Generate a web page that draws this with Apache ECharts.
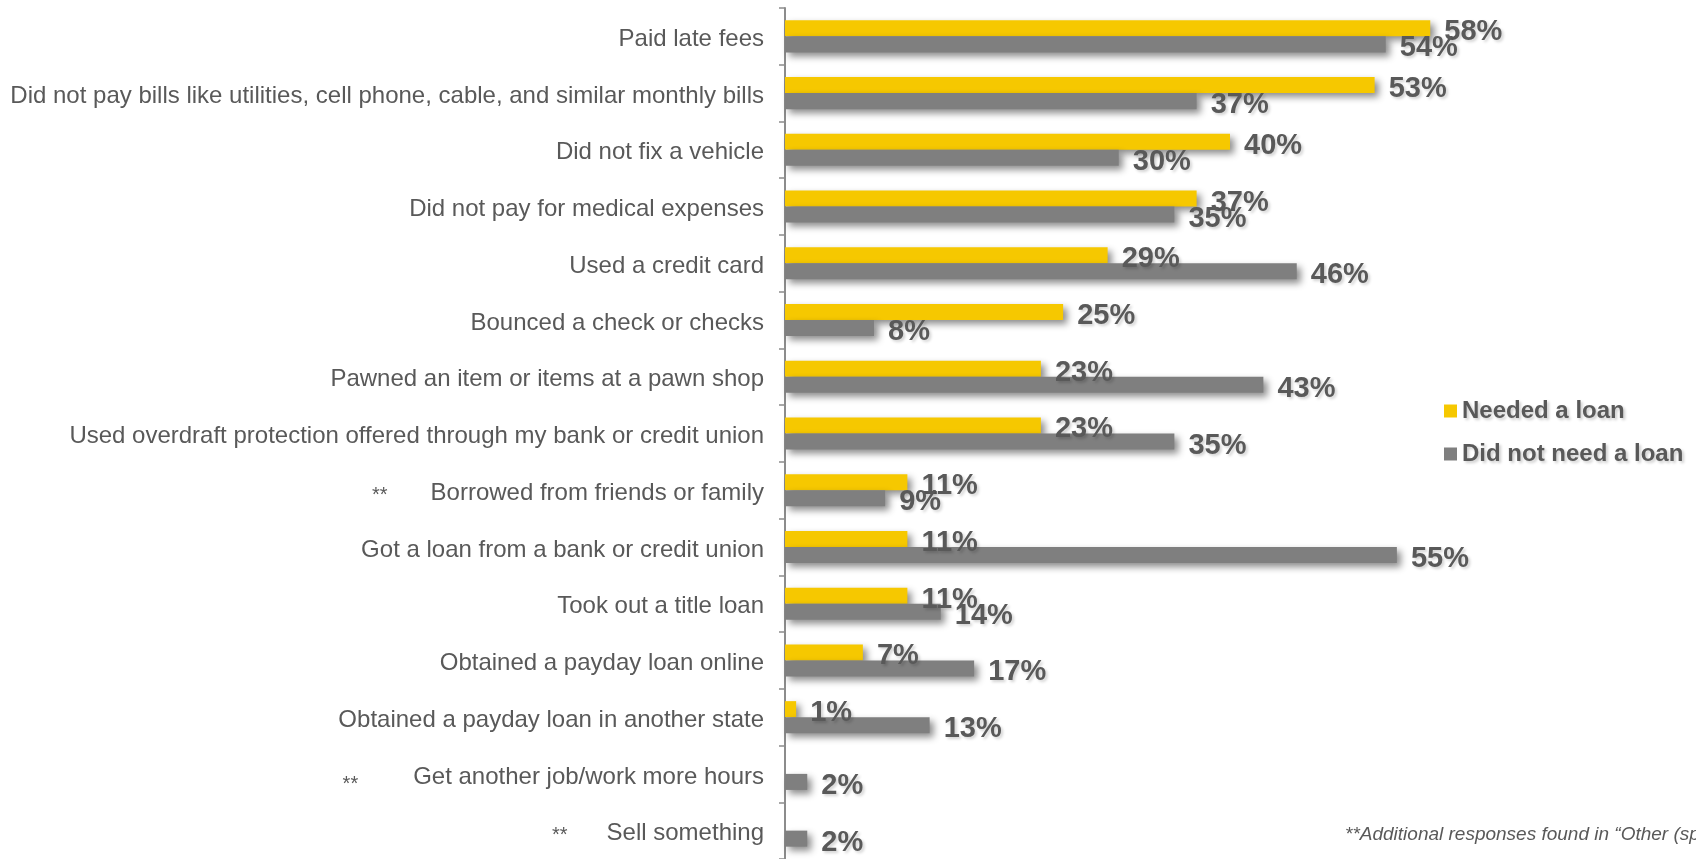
<!DOCTYPE html>
<html>
<head>
<meta charset="utf-8">
<script src="https://cdn.jsdelivr.net/npm/echarts@6/dist/echarts.min.js"></script>
<style>
  html, body { margin: 0; padding: 0; background: #ffffff; }
  #chart { width: 1696px; height: 859px; }
</style>
</head>
<body>
<div id="chart"></div>
<script>
// Ways of coping with a shortfall, by whether the respondent needed a loan (% of respondents)
const categories = [
  'Paid late fees',
  'Did not pay bills like utilities, cell phone, cable, and similar monthly bills',
  'Did not fix a vehicle',
  'Did not pay for medical expenses',
  'Used a credit card',
  'Bounced a check or checks',
  'Pawned an item or items at a pawn shop',
  'Used overdraft protection offered through my bank or credit union',
  'Borrowed from friends or family',
  'Got a loan from a bank or credit union',
  'Took out a title loan',
  'Obtained a payday loan online',
  'Obtained a payday loan in another state',
  'Get another job/work more hours',
  'Sell something'
];
const neededLoan    = [58, 53, 40, 37, 29, 25, 23, 23, 11, 11, 11, 7, 1, null, null];
const notNeededLoan = [54, 37, 30, 35, 46, 8, 43, 35, 9, 55, 14, 17, 13, 2, 2];
// Responses collected from the "Other (specify)" field, marked with **
const otherResponses = {
  'Borrowed from friends or family': 'a',
  'Get another job/work more hours': 'b',
  'Sell something': 'c'
};
const seriesNames = ['Needed a loan', 'Did not need a loan'];
const footnote = '**Additional responses found in \u201cOther (specify)\u201d';

const FONT = "'Liberation Sans', Arial, sans-serif";
const TEXT = '#595959';
const YELLOW = '#F6C800';
const GREY = '#7F7F7F';

const barShadow = {
  shadowColor: 'rgba(0,0,0,0.45)',
  shadowBlur: 7,
  shadowOffsetX: 4,
  shadowOffsetY: 4
};
const valueLabel = {
  show: true,
  position: 'right',
  distance: 14,
  offset: [0, 4],
  formatter: '{c}%',
  color: TEXT,
  fontFamily: FONT,
  fontWeight: 'bold',
  fontSize: 29,
  textShadowColor: 'rgba(0,0,0,0.18)',
  textShadowBlur: 3,
  textShadowOffsetX: 2,
  textShadowOffsetY: 2
};
const starBase = { color: TEXT, fontFamily: FONT, fontSize: 20 };

const chart = echarts.init(document.getElementById('chart'));
chart.setOption({
  backgroundColor: '#ffffff',
  animation: false,
  textStyle: { fontFamily: FONT },
  grid: { left: 785, right: 21, top: 8, bottom: 0, containLabel: false },
  legend: {
    data: seriesNames,
    orient: 'vertical',
    left: 1439,
    top: 394,
    itemWidth: 13,
    itemHeight: 13,
    itemGap: 19,
    icon: 'rect',
    textStyle: {
      color: TEXT,
      fontFamily: FONT,
      fontWeight: 'bold',
      fontSize: 24,
      lineHeight: 24,
      textShadowColor: 'rgba(0,0,0,0.2)',
      textShadowBlur: 3,
      textShadowOffsetX: 2,
      textShadowOffsetY: 2
    }
  },
  xAxis: {
    type: 'value',
    min: 0,
    max: 80,
    show: false
  },
  yAxis: {
    type: 'category',
    data: categories,
    inverse: true,
    axisLine: { show: true, lineStyle: { color: '#8C8C8C', width: 2 } },
    axisTick: { show: true, length: 6, lineStyle: { color: '#8C8C8C', width: 1.5 } },
    axisLabel: {
      margin: 21,
      color: TEXT,
      fontFamily: FONT,
      fontSize: 24,
      padding: [6, 0, 0, 0],
      formatter: function (name) {
        const k = otherResponses[name];
        return k ? '{' + k + '|**}{t|' + name + '}' : name;
      },
      rich: {
        t: { color: TEXT, fontFamily: FONT, fontSize: 24 },
        a: Object.assign({ padding: [4, 43, 0, 0] }, starBase),
        b: Object.assign({ padding: [16, 55, 0, 0] }, starBase),
        c: Object.assign({ padding: [4, 39, 0, 0] }, starBase)
      }
    },
    splitLine: { show: false }
  },
  series: [
    {
      name: seriesNames[0],
      type: 'bar',
      data: neededLoan,
      barGap: '0%',
      barCategoryGap: '43.5%',
      itemStyle: Object.assign({ color: YELLOW }, barShadow),
      label: valueLabel
    },
    {
      name: seriesNames[1],
      type: 'bar',
      data: notNeededLoan,
      barGap: '0%',
      barCategoryGap: '43.5%',
      itemStyle: Object.assign({ color: GREY }, barShadow),
      label: valueLabel
    }
  ],
  graphic: [
    {
      type: 'text',
      left: 1345,
      top: 825,
      style: {
        text: footnote,
        fill: TEXT,
        font: 'italic 19px ' + FONT
      }
    }
  ]
});
</script>
</body>
</html>
